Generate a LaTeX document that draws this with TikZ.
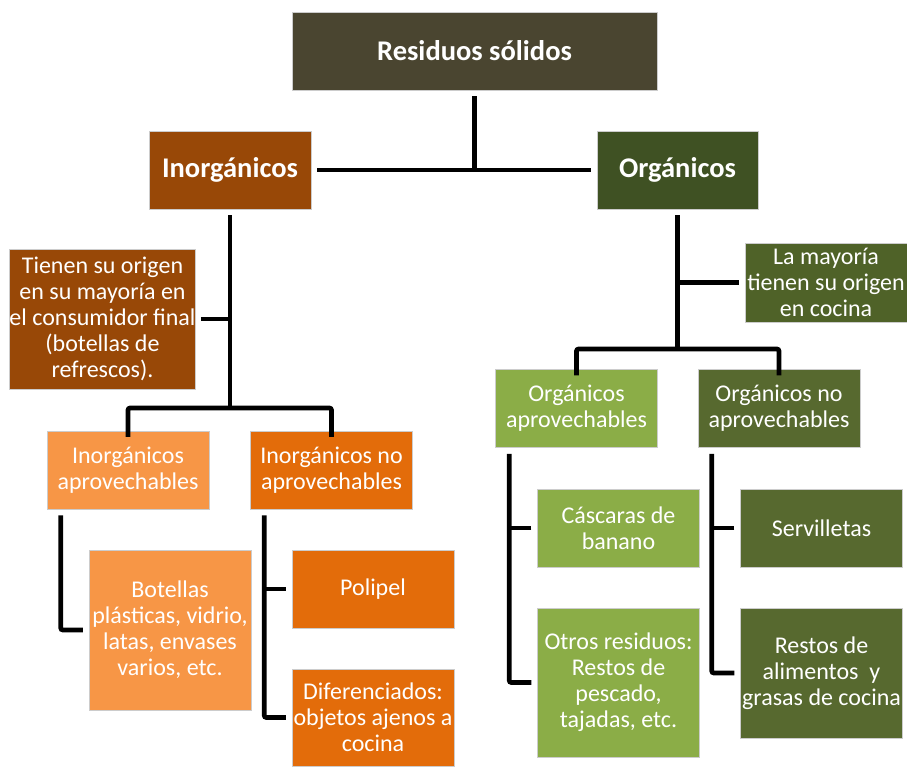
\documentclass[tikz,border=0pt]{standalone}
\usepackage{fontspec}
\setmainfont{Carlito}
\usepackage{xcolor}
\usepackage{tikz}

\definecolor{raiz}{HTML}{4A4530}
\definecolor{inorgcol}{HTML}{984807}
\definecolor{orgcol}{HTML}{3F5123}
\definecolor{mayoriacol}{HTML}{4F6228}
\definecolor{inapcol}{HTML}{F79646}
\definecolor{innocol}{HTML}{E36C0A}
\definecolor{orapcol}{HTML}{8BAD47}
\definecolor{ornocol}{HTML}{57692F}

\begin{document}
\begin{tikzpicture}[x=1pt, y=-1pt,
  block/.style={rectangle, draw=white!80!black, line width=0.5pt, text=white, align=center, inner sep=0pt,
    font=\fontsize{24}{26}\selectfont, minimum width=162pt, minimum height=78pt},
  head/.style={block, font=\fontsize{28.5}{32}\selectfont\bfseries},
  link/.style={line width=4.6pt, rounded corners=2pt}]

\useasboundingbox (0,0) rectangle (907,766);

\node[head, fill=raiz, minimum width=365pt] (residuos) at (474.5,51) {Residuos sólidos};
\node[head, fill=inorgcol] (inorg) at (230,170) {Inorgánicos};
\node[head, fill=orgcol, minimum width=161pt] (org) at (677.5,170) {Orgánicos};

\node[block, fill=inorgcol, minimum width=185pt, minimum height=140pt] (tienen) at (102.5,319)
  {Tienen su origen\\en su mayoría en\\el consumidor final\\(botellas de\\refrescos).};
\node[block, fill=mayoriacol, minimum height=79pt] (mayoria) at (826,282.5)
  {La mayoría\\tienen su origen\\en cocina};

\node[block, fill=inapcol] (inap) at (128,470) {Inorgánicos\\aprovechables};
\node[block, fill=innocol] (inno) at (331.5,470) {Inorgánicos no\\aprovechables};
\node[block, fill=orapcol] (orap) at (576.5,408.5) {Orgánicos\\aprovechables};
\node[block, fill=ornocol] (orno) at (779,408.5) {Orgánicos no\\aprovechables};

\node[block, fill=inapcol, minimum height=160pt] (botellas) at (170,630)
  {Botellas\\plásticas, vidrio,\\latas, envases\\varios, etc.};
\node[block, fill=innocol] (polipel) at (373,589) {Polipel};
\node[block, fill=innocol, minimum height=97pt] (dif) at (373,717.5)
  {Diferenciados:\\objetos ajenos a\\cocina};
\node[block, fill=orapcol] (cascaras) at (618.5,528) {Cáscaras de\\banano};
\node[block, fill=orapcol, minimum height=149pt] (otros) at (618.5,682.5)
  {Otros residuos:\\Restos de\\pescado,\\tajadas, etc.};
\node[block, fill=ornocol] (servilletas) at (821.5,528) {Servilletas};
\node[block, fill=ornocol, minimum height=130pt] (restos) at (821.5,673)
  {Restos de\\alimentos~ y\\grasas de cocina};

\coordinate (ibar) at (230,408);
\coordinate (obar) at (677.5,349);

% first level
\draw[link] ([yshift=-6]residuos.south) -- (residuos.south |- inorg.east);
\draw[link] ([xshift=6]inorg.east) -- ([xshift=-6]org.west);

% inorganicos
\draw[link] ([yshift=-6]inorg.south) -- (ibar);
\draw[link] ([xshift=5]tienen.east) -- (tienen.east -| ibar);
\draw[link] ([yshift=-6]inap.north) |- (ibar) -| ([yshift=-6]inno.north);
\draw[link] ([xshift=14,yshift=-6]inap.south west) |- ([xshift=-6]botellas.west);
\draw[link] ([xshift=14,yshift=-6]inno.south west) |- ([xshift=-6]dif.west);
\draw[link] ([xshift=-6]polipel.west) -- ([xshift=14]inno.south west |- polipel.west);

% organicos
\draw[link] ([yshift=-6]org.south) -- (obar);
\draw[link] ([xshift=-6]mayoria.west) -- (mayoria.west -| obar);
\draw[link] ([yshift=-6]orap.north) |- (obar) -| ([yshift=-6]orno.north);
\draw[link] ([xshift=14,yshift=-6]orap.south west) |- ([xshift=-6]otros.west);
\draw[link] ([xshift=-6]cascaras.west) -- ([xshift=14]orap.south west |- cascaras.west);
\draw[link] ([xshift=14,yshift=-6]orno.south west) |- ([xshift=-6]restos.west);
\draw[link] ([xshift=-6]servilletas.west) -- ([xshift=14]orno.south west |- servilletas.west);
\end{tikzpicture}
\end{document}
